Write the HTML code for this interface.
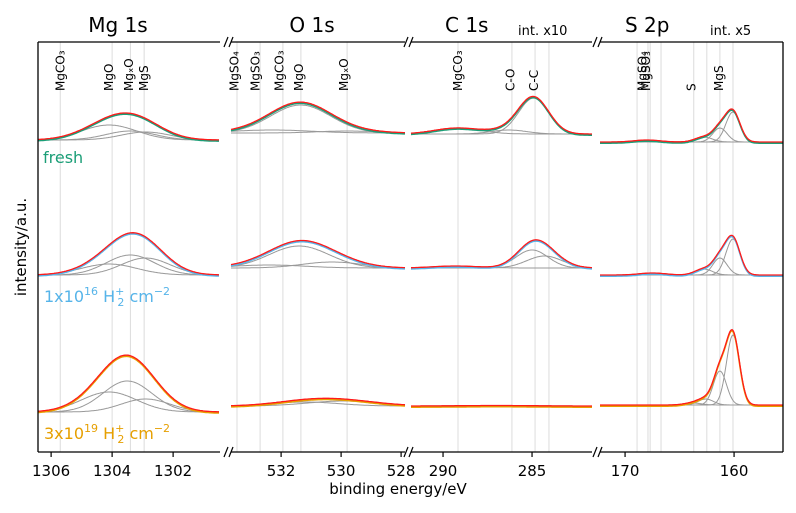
<!DOCTYPE html>
<html><head><meta charset="utf-8"><style>
html,body{margin:0;padding:0;background:#fff;}
svg{display:block;font-family:"DejaVu Sans","Liberation Sans",sans-serif;}
</style></head><body>
<svg id="chart" width="796" height="513" viewBox="0 0 796 513"></svg>
<script>
// ---- data ----
const panelNames = ["Mg 1s","O 1s","C 1s","S 2p"];
const sampleNames = ["fresh","1e16","3e19"];
const sampleBaselines = [140, 275, 410];
const panelTicks = [[1306,1304,1302],[532,530,528],[290,285],[170,160]];
const panelRefLines = [[1305.7,1304.0,1303.4,1302.95],[533.47,532.7,531.94,531.34,529.8],[289.16,286.13,284.83,284.05],[168.9,167.9,167.7,166.7,163.7,162.5,161.3,160.1]];
const panelRefLabels = [["MgCO₃","MgO","MgₓO","MgS"],["MgSO₄","MgSO₃","MgCO₃","MgO","MgₓO"],["MgCO₃","C-O","C-C"],["MgSO₄","MgSO₃","S","MgS"]];
const panelRefLabelPos = [[1305.7,1304.1,1303.45,1302.95],[533.55,532.85,532.05,531.4,529.9],[289.16,286.2,284.9],[168.4,168.1,163.9,161.4]];
// components: [center eV, amplitude a.u., sigma eV] per panel per sample
const mgComps = [[[1304.1,15,0.9],[1303.4,9,0.8],[1302.9,8,0.8]],[[1304.1,11,0.9],[1303.4,20,0.8],[1302.9,17,0.8]],[[1304.1,20,0.9],[1303.5,31,0.8],[1302.9,13,0.8]]];
const oComps = [[[531.35,28,1.0],[532.3,3,1.3],[529.8,2,1.0]],[[531.4,22,1.0],[530.3,6,1.0],[532.4,3,1.2]],[[531.2,4,1.1],[529.9,5,1.2]]];
const cComps = [[[284.9,36,0.85],[286.3,4,1.0],[289.2,6,1.3]],[[285.0,18,0.9],[284.3,12,1.0],[289.3,2,1.3]],[[287,0.5,2]]];
const sComps = [[[160.1,30,0.65],[161.3,14,0.65],[162.8,5,0.8],[168.0,2,1.2]],[[160.1,36,0.65],[161.3,17,0.65],[162.8,6,0.8],[167.5,2,1.2]],[[160.1,70,0.6],[161.3,34,0.6],[162.6,6,0.7],[163.8,2,0.8]]];
const panelComps = [mgComps,oComps,cComps,sComps];
const sampleColors = ["#1b9e77","#56b4e9","#e69f00"];
// ---- layout (not data) ----
const panels = [{x0:38,x1:219,e0:1306.43,k:30.5},{x0:231,x1:405,e0:533.67,k:30},{x0:411,x1:592,e0:291.8,k:17.8},{x0:600,x1:783,e0:172.3,k:10.9}];
const baseOffsets = [[0,-7,-6,2],[0,-7,-7,0],[2,-4,-4,-5]];
const svgEl = document.getElementById('chart');
const NS = "http://www.w3.org/2000/svg";
function mk(tag, attrs, parent){const e=document.createElementNS(NS,tag);for(const k in attrs)e.setAttribute(k,attrs[k]);(parent||svgEl).appendChild(e);return e;}
const yTop=42, yBot=452;
panels.forEach((p,pi)=>{
  const X=e=>p.x0+(p.e0-e)*p.k;
  panelRefLines[pi].forEach(e=>{
    const l=mk('line',{x1:X(e),x2:X(e),y1:yTop,y2:yBot,stroke:'#dcdcdc','stroke-width':1});
    
    
  });
  panelRefLabels[pi].forEach((t,i)=>{
    const x=X(panelRefLabelPos[pi][i])+4;
    const tx=mk('text',{x:0,y:0,transform:`translate(${x},91) rotate(-90)`,'font-size':12,fill:'#000'});
    tx.textContent=t;
    
    
  });
  const tt=mk('text',{x:(pi===0?118:pi===1?312:pi===2?445:625),y:32,'font-size':20,'text-anchor':pi<2?'middle':'start'});
  tt.textContent=panelNames[pi];
  
  
  sampleNames.forEach((s,si)=>{
    const comps=panelComps[pi][si];
    const base=sampleBaselines[si]+baseOffsets[si][pi];
    const g=(e,c)=>c[1]*Math.exp(-0.5*((e-c[0])/c[2])**2);
    const pts=[];
    for(let x=p.x0;x<=p.x1;x+=1){const e=p.e0-(x-p.x0)/p.k;pts.push([x,e]);}
    comps.forEach(c=>{
      const d=pts.map(([x,e])=>`${x},${(base-g(e,c)).toFixed(1)}`).join(' ');
      const pl=mk('polyline',{points:d,fill:'none',stroke:'#999','stroke-width':1});
      
      
    });
    const sum=e=>comps.reduce((a,c)=>a+g(e,c),0);
    const dm=pts.map(([x,e])=>`${x},${(base-sum(e)+1.2).toFixed(1)}`).join(' ');
    const pm=mk('polyline',{points:dm,fill:'none',stroke:sampleColors[si],'stroke-width':1.6});
    
    
    const ds=pts.map(([x,e])=>`${x},${(base-sum(e)).toFixed(1)}`).join(' ');
    const ps=mk('polyline',{points:ds,fill:'none',stroke:'#ff1a1a','stroke-width':1.3});
    
    
  });
  const x0=pi===0?38:p.x0, x1=pi===3?783:p.x1+(pi===0?1:0);
  [yTop,yBot].forEach(y=>{
    const l=mk('line',{x1:x0,x2:x1,y1:y,y2:y,stroke:'#000','stroke-width':1.3});
    
    
  });
  if(pi>0){[yTop,yBot].forEach(y=>{[p.x0-5,p.x0].forEach(bx=>{
    const b=mk('line',{x1:bx-2,x2:bx+2,y1:y+5,y2:y-5,stroke:'#000','stroke-width':1.2});
    
    
  });});}
  panelTicks[pi].forEach(t=>{
    const tk=mk('line',{x1:X(t),x2:X(t),y1:yBot,y2:yBot+5,stroke:'#000','stroke-width':1.2});
    
    
    const tx=mk('text',{x:X(t),y:476,'font-size':15,'text-anchor':'middle'});
    tx.textContent=t;
    
    
  });
});
const ls=mk('line',{x1:38,x2:38,y1:yTop,y2:yBot,stroke:'#000','stroke-width':1.3});


const rs=mk('line',{x1:783,x2:783,y1:yTop,y2:yBot,stroke:'#000','stroke-width':1.3});


svgEl.insertAdjacentHTML('beforeend',`
<text x="518" y="35" font-size="13">int. x10</text>
<text x="710" y="35" font-size="13">int. x5</text>
<text x="398" y="494" font-size="15" text-anchor="middle">binding energy/eV</text>
<text transform="translate(26,247) rotate(-90)" font-size="15" text-anchor="middle">intensity/a.u.</text>
<text x="43" y="163" font-size="16" fill="#1b9e77">fresh</text>
<text x="44" y="302" font-size="16" fill="#56b4e9">1x10<tspan dy="-7" font-size="11">16</tspan><tspan dy="7"> H</tspan><tspan dy="-7" font-size="11">+</tspan><tspan dx="-7" dy="11" font-size="11">2</tspan><tspan dy="-4"> cm</tspan><tspan dy="-7" font-size="11">−2</tspan></text>
<text x="44" y="439" font-size="16" fill="#e69f00">3x10<tspan dy="-7" font-size="11">19</tspan><tspan dy="7"> H</tspan><tspan dy="-7" font-size="11">+</tspan><tspan dx="-7" dy="11" font-size="11">2</tspan><tspan dy="-4"> cm</tspan><tspan dy="-7" font-size="11">−2</tspan></text>
`);
</script>
</body></html>
